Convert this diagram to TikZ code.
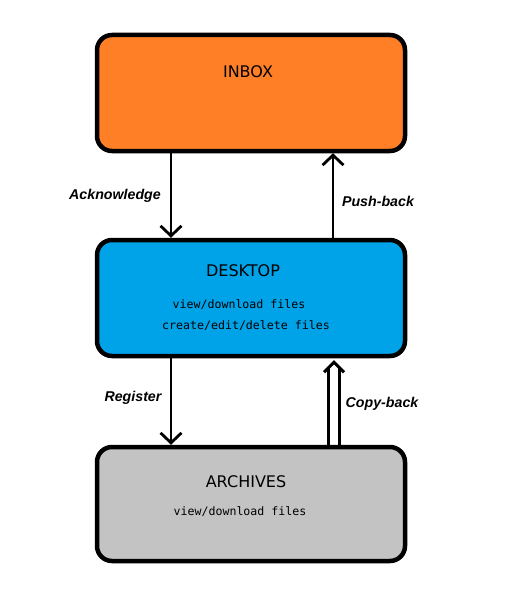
\documentclass[tikz,border=0pt]{standalone}
\usepackage{fontspec}
\setmainfont{Liberation Sans}
\newfontfamily\titlefont{DejaVu Sans}
\newfontfamily\monofnt{DejaVu Sans Mono}
\usetikzlibrary{arrows.meta}
\definecolor{inboxc}{HTML}{FF7F27}
\definecolor{deskc}{HTML}{00A2E8}
\definecolor{archc}{HTML}{C3C3C3}
\tikzset{
  box/.style={draw=black, line width=4.5pt, rounded corners=15pt, minimum width=308pt, minimum height=116pt, inner sep=0pt},
  title/.style={font=\titlefont\fontsize{16}{18}\selectfont, inner sep=0pt},
  info/.style={font=\monofnt\fontsize{11.6}{13}\selectfont, inner sep=0pt},
  lbl/.style={font=\bfseries\itshape\fontsize{14.2}{16}\selectfont, inner sep=0pt},
  flow/.style={draw=black, line width=2.8pt, -{Straight Barb[length=10pt,width=21pt,line width=2.8pt]}},
  shaft/.style={draw=black, line width=3pt},
  barb/.style={draw=black, line width=3pt, line cap=butt}
}
\begin{document}
\begin{tikzpicture}[x=1pt,y=-1pt]
\useasboundingbox[fill=white] (0,0) rectangle (532,594);
\node[box, fill=inboxc] (inbox) at (251,93) {};
\node[box, fill=deskc] (desk) at (251,298) {};
\node[box, fill=archc, minimum height=114pt] (arch) at (251,504) {};

\node[title] (tin) at (248,72) {INBOX};
\node[title] (tdesk) at (243,271) {DESKTOP};
\node[info] (d1) at (239,305) {view/download files};
\node[info] (d2) at (246,326) {create/edit/delete files};
\node[title] (tarch) at (246,482) {ARCHIVES};
\node[info] (a1) at (240,512) {view/download files};

\coordinate (xl) at (171,0);
\coordinate (xr) at (333,0);
\coordinate (xc) at (334,0);

\draw[flow] (inbox.south -| xl) -- (desk.north -| xl);
\draw[flow] (desk.north -| xr) -- (inbox.south -| xr);
\draw[flow] (desk.south -| xl) -- (arch.north -| xl);

% Copy-back double arrow
\coordinate (cbtop) at ([yshift=-4pt]desk.south -| xc);
\coordinate (cbbot) at (arch.north -| xc);
\draw[shaft] ([xshift=-5.5pt]cbbot) -- ([xshift=-5.5pt,yshift=-5pt]cbtop);
\draw[shaft] ([xshift=5.5pt]cbbot) -- ([xshift=5.5pt,yshift=-5pt]cbtop);
\draw[barb] ([xshift=-10pt,yshift=-10pt]cbtop) -- (cbtop) -- ([xshift=10pt,yshift=-10pt]cbtop);

\node[lbl] (lack) at (115,196) {Acknowledge};
\node[lbl] (lpush) at (378,201) {Push-back};
\node[lbl] (lreg) at (133,398) {Register};
\node[lbl] (lcopy) at (382,404) {Copy-back};
\end{tikzpicture}
\end{document}
